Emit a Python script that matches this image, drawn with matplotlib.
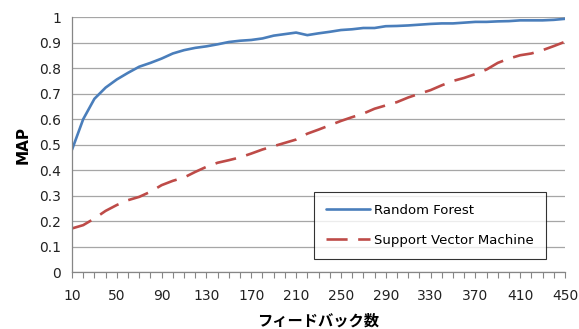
import matplotlib
matplotlib.use("Agg")
import matplotlib.pyplot as plt

feedback = list(range(10, 451, 10))
random_forest = [0.48, 0.60, 0.68, 0.724, 0.756, 0.782, 0.806, 0.821, 0.838, 0.858,
                 0.871, 0.880, 0.886, 0.894, 0.903, 0.908, 0.911, 0.917, 0.928, 0.934,
                 0.940, 0.930, 0.937, 0.943, 0.950, 0.953, 0.958, 0.958, 0.965, 0.966,
                 0.968, 0.971, 0.974, 0.976, 0.976, 0.979, 0.982, 0.982, 0.984, 0.985,
                 0.988, 0.988, 0.988, 0.990, 0.994]
svm = [0.171, 0.184, 0.21, 0.24, 0.263, 0.282, 0.295, 0.315, 0.341, 0.358,
       0.371, 0.393, 0.413, 0.429, 0.439, 0.45, 0.465, 0.481, 0.494, 0.507,
       0.52, 0.543, 0.559, 0.576, 0.593, 0.608, 0.622, 0.641, 0.654, 0.667,
       0.685, 0.70, 0.714, 0.733, 0.75, 0.762, 0.777, 0.795, 0.821, 0.838,
       0.851, 0.858, 0.871, 0.887, 0.904]
yticks = [0, 0.1, 0.2, 0.3, 0.4, 0.5, 0.6, 0.7, 0.8, 0.9, 1]
ytick_labels = ["0", "0.1", "0.2", "0.3", "0.4", "0.5", "0.6", "0.7", "0.8", "0.9", "1"]

plt.rcParams['font.family'] = ['DejaVu Sans', 'Noto Sans CJK JP']

fig = plt.figure(figsize=(5.79, 3.29), dpi=100)
ax = fig.add_axes([72/579, 1-272/329, (565-72)/579, (272-17.3)/329])

ax.plot(feedback, random_forest, color='#4A7EBB', lw=1.9, label='Random Forest',
        solid_capstyle='round')
ax.plot(feedback, svm, color='#BE4B48', lw=1.9, dashes=(8, 4), label='Support Vector Machine')

ax.set_xlim(10, 450)
ax.set_ylim(0, 1)
ax.set_yticks(yticks)
ax.set_yticklabels(ytick_labels)
ax.set_xticks(feedback)
ax.set_xticklabels([str(v) if (v - 10) % 40 == 0 else "" for v in feedback])
ax.grid(axis='y', color='#A6A6A6', lw=0.9)
ax.set_axisbelow(True)
for s in ['top', 'right']:
    ax.spines[s].set_visible(False)
for s in ['left', 'bottom']:
    ax.spines[s].set_color('#868686')
    ax.spines[s].set_linewidth(0.9)
ax.tick_params(axis='y', length=0, labelsize=10, colors='#222222', pad=8)
ax.tick_params(axis='x', length=4, width=0.8, color='#868686', labelsize=10,
               labelcolor='#222222', pad=8)

ax.set_ylabel('MAP', fontsize=11, fontweight='bold', labelpad=6)
ax.set_xlabel('フィードバック数', fontsize=11, fontweight='bold',
              family=['Noto Sans CJK JP'], labelpad=7)

leg = ax.legend(loc='upper left', bbox_to_anchor=((314-72)/493, (272-192)/254.7),
                frameon=True, fancybox=False, edgecolor='black', fontsize=9.5,
                handlelength=3.35, handletextpad=0.3, labelspacing=1.3,
                borderpad=0.9, borderaxespad=0)
leg.get_frame().set_linewidth(0.8)

fig.savefig('out.png', dpi=100)
